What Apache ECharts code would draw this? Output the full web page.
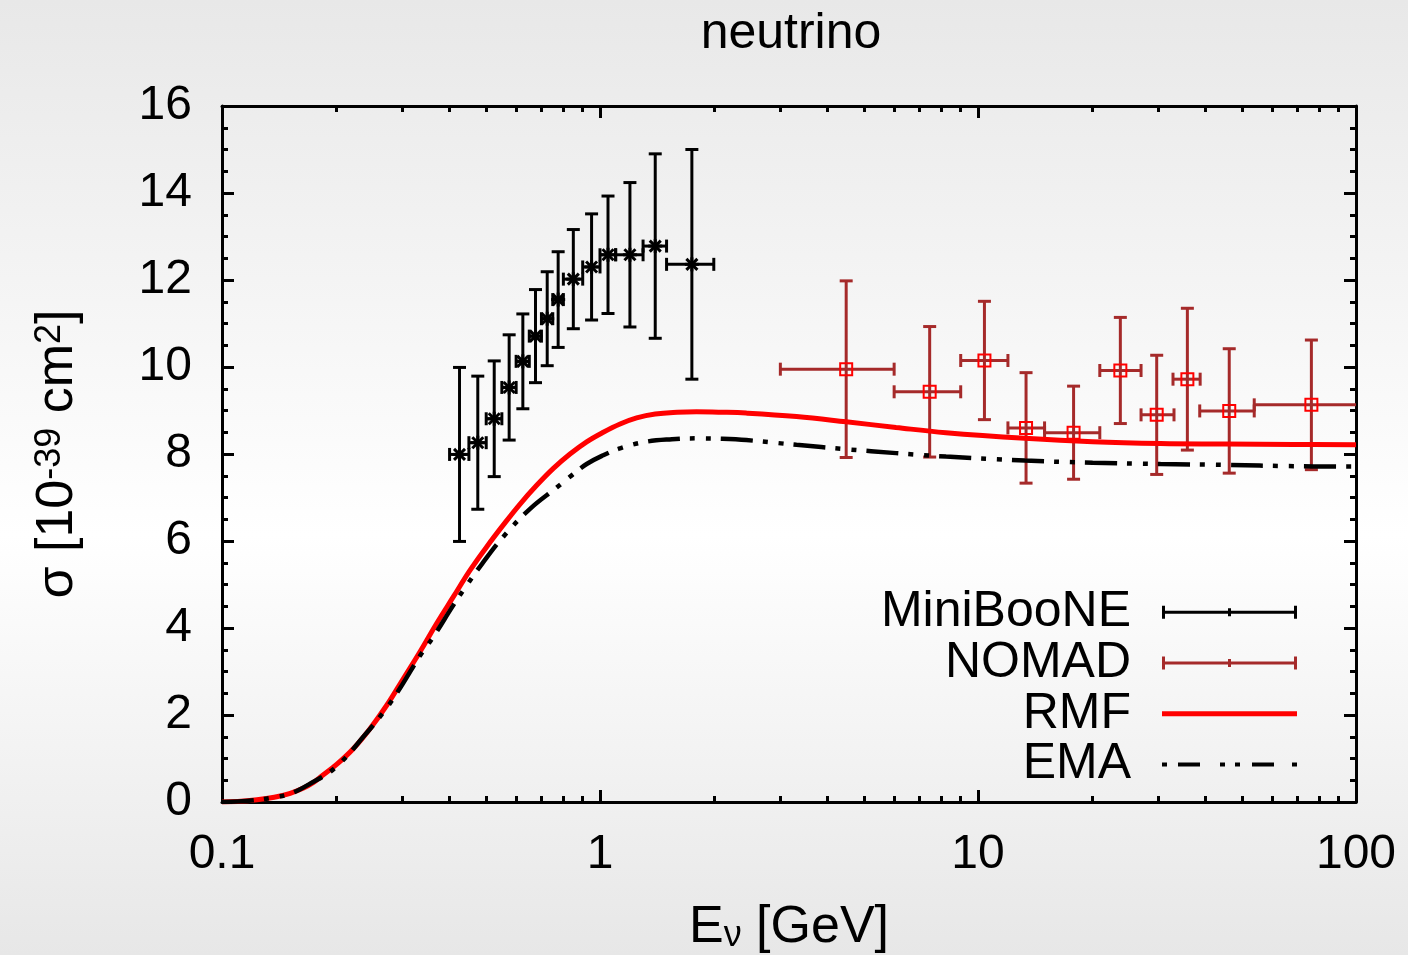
<!DOCTYPE html>
<html>
<head>
<meta charset="utf-8">
<script src="https://cdn.jsdelivr.net/npm/echarts@6/dist/echarts.min.js"></script>
<style>
  html, body { margin: 0; padding: 0; width: 1408px; height: 955px; overflow: hidden; }
  #chart { width: 1408px; height: 955px; }
</style>
</head>
<body>
<div id="chart"></div>
<script>
// ---- MiniBooNE CCQE data: bin centre, bin edges, cross section, error ----
const miniEnergy = [0.425, 0.475, 0.525, 0.575, 0.625, 0.675, 0.725, 0.775, 0.85, 0.95, 1.05, 1.2, 1.4, 1.75];
const miniLow    = [0.40, 0.45, 0.50, 0.55, 0.60, 0.65, 0.70, 0.75, 0.80, 0.90, 1.00, 1.10, 1.30, 1.50];
const miniHigh   = [0.45, 0.50, 0.55, 0.60, 0.65, 0.70, 0.75, 0.80, 0.90, 1.00, 1.10, 1.30, 1.50, 2.00];
const miniSigma  = [7.99, 8.26, 8.81, 9.53, 10.13, 10.71, 11.11, 11.55, 12.02, 12.30, 12.58, 12.58, 12.78, 12.36];
const miniErr    = [2.00, 1.53, 1.33, 1.21, 1.09, 1.07, 1.08, 1.10, 1.14, 1.22, 1.35, 1.66, 2.12, 2.64];

// ---- NOMAD data ----
const nomadEnergy = [4.48, 7.45, 10.4, 13.4, 17.9, 23.8, 29.7, 35.8, 46.2, 76.2];
const nomadLow    = [3.0, 6.0, 9.0, 12.0, 15.0, 21.0, 27.0, 32.8, 38.6, 53.8];
const nomadHigh   = [6.0, 9.0, 12.0, 15.0, 21.0, 27.0, 33.0, 38.7, 53.8, 108];
const nomadSigma  = [9.95, 9.43, 10.15, 8.60, 8.49, 9.92, 8.90, 9.72, 8.99, 9.13];
const nomadErr    = [2.03, 1.50, 1.36, 1.27, 1.07, 1.22, 1.37, 1.63, 1.43, 1.49];

// ---- RMF model curve ----
const rmfEnergy = [0.1, 0.11, 0.1237, 0.1375, 0.1515, 0.1643, 0.1746, 0.1819, 0.2014, 0.2228, 0.2466,
  0.2731, 0.302, 0.3344, 0.370, 0.4095, 0.4533, 0.5018, 0.555, 0.6145, 0.680, 0.7527, 0.833, 0.922,
  1.02, 1.13, 1.25, 1.4, 1.6, 1.8, 2.1, 2.44, 3.31, 4.48, 6.07, 8.23, 13.3, 20.1, 30.4, 45.2, 68.4, 100];
const rmfSigma = [0, 0.01, 0.05, 0.11, 0.20, 0.32, 0.45, 0.57, 0.87, 1.23, 1.69,
  2.23, 2.84, 3.46, 4.11, 4.72, 5.33, 5.87, 6.37, 6.85, 7.28, 7.67, 8.00, 8.28,
  8.50, 8.69, 8.83, 8.92, 8.96, 8.97, 8.96, 8.94, 8.86, 8.74, 8.61, 8.49, 8.36, 8.28, 8.24, 8.23, 8.22, 8.21];

// ---- EMA model curve ----
const emaEnergy = [0.1, 0.11, 0.1237, 0.1375, 0.1515, 0.1694, 0.1993, 0.2393, 0.273, 0.296, 0.334, 0.3626,
  0.409, 0.444, 0.487, 0.555, 0.653, 0.768, 0.845, 0.922, 1.02, 1.13, 1.32, 1.55, 1.80, 2.1, 2.44, 3.31,
  4.48, 6.07, 8.23, 13.3, 20.1, 30.4, 45.2, 68.4, 100];
const emaSigma = [0, 0.01, 0.05, 0.11, 0.19, 0.40, 0.79, 1.55, 2.17, 2.62, 3.36, 3.80,
  4.52, 4.98, 5.47, 6.10, 6.74, 7.23, 7.52, 7.77, 7.97, 8.13, 8.28, 8.34, 8.36, 8.35, 8.32, 8.21,
  8.11, 8.02, 7.94, 7.85, 7.80, 7.77, 7.75, 7.72, 7.71];

// ---- axis ticks ----
const xMajorTicks = [0.1, 1, 10, 100];
const xMinorTicks = [0.2, 0.3, 0.4, 0.5, 0.6, 0.7, 0.8, 0.9, 2, 3, 4, 5, 6, 7, 8, 9, 20, 30, 40, 50, 60, 70, 80, 90];

const FONT = '"Liberation Sans", Arial, Helvetica, sans-serif';

function zip(...cols) { return cols[0].map((_, i) => cols.map(c => c[i])); }

const miniRows  = zip(miniEnergy, miniLow, miniHigh, miniSigma, miniErr);
const nomadRows = zip(nomadEnergy, nomadLow, nomadHigh, nomadSigma, nomadErr);

// Error-bar glyph: vertical and horizontal bars with end caps plus a point marker.
function errorBarRenderer(barColor, markerKind, markerColor) {
  return function (params, api) {
    const x = api.value(0), xl = api.value(1), xh = api.value(2), y = api.value(3), e = api.value(4);
    const c = api.coord([x, y]);
    const top = api.coord([x, y + e]);
    const bot = api.coord([x, y - e]);
    const left = api.coord([xl, y]);
    const right = api.coord([xh, y]);
    const cap = 6.5;
    const ls = { stroke: barColor, lineWidth: 3 };
    const line = (x1, y1, x2, y2, style) => ({ type: 'line', shape: { x1, y1, x2, y2 }, style: style || ls });
    const children = [
      line(c[0], top[1], c[0], bot[1]),
      line(c[0] - cap, top[1], c[0] + cap, top[1]),
      line(c[0] - cap, bot[1], c[0] + cap, bot[1]),
      line(left[0], c[1], right[0], c[1]),
      line(left[0], c[1] - cap, left[0], c[1] + cap),
      line(right[0], c[1] - cap, right[0], c[1] + cap)
    ];
    if (markerKind === 'star') {
      const s = 7, d = 5.5;
      const ms = { stroke: markerColor, lineWidth: 3 };
      children.push(line(c[0] - s, c[1], c[0] + s, c[1], ms));
      children.push(line(c[0], c[1] - s, c[0], c[1] + s, ms));
      children.push(line(c[0] - d, c[1] - d, c[0] + d, c[1] + d, ms));
      children.push(line(c[0] - d, c[1] + d, c[0] + d, c[1] - d, ms));
    } else {
      children.push({
        type: 'rect',
        shape: { x: c[0] - 6, y: c[1] - 6, width: 12, height: 12 },
        style: { fill: 'none', stroke: markerColor, lineWidth: 2 }
      });
    }
    return { type: 'group', children };
  };
}

// Legend icons (drawn in a 135 x 14 box; tiny corner specks fix the box size)
const specks = 'M0,0 h0.01 v0.01 h-0.01 Z M134.99,13.99 h0.01 v0.01 h-0.01 Z ';
const iconErr = 'path://' + specks +
  'M0,5.5 h135 v3 h-135 Z M0,0.5 h3 v13 h-3 Z M132,0.5 h3 v13 h-3 Z M66,3 h3 v8 h-3 Z';
const iconLine = 'path://' + specks + 'M0,4.5 h135 v5 h-135 Z';
const iconDash = 'path://' + specks +
  'M0,5 h5 v4 h-5 Z M16,5 h22 v4 h-22 Z M58,5 h5 v4 h-5 Z M73,5 h5 v4 h-5 Z M90,5 h22 v4 h-22 Z M130,5 h5 v4 h-5 Z';

const xBase = { type: 'log', logBase: 10, min: 0.1, max: 100, splitLine: { show: false } };
const yBase = { type: 'value', min: 0, max: 16, interval: 2, splitLine: { show: false } };

const chart = echarts.init(document.getElementById('chart'), null, { renderer: 'canvas' });

chart.setOption({
  backgroundColor: {
    type: 'linear', x: 0, y: 0, x2: 0, y2: 1,
    colorStops: [
      { offset: 0, color: '#e8e8e8' },
      { offset: 0.56, color: '#ffffff' },
      { offset: 1, color: '#e7e7e7' }
    ]
  },
  animation: false,
  textStyle: { fontFamily: FONT },
  title: {
    text: 'neutrino',
    left: 786, top: 4, textAlign: 'center',
    textStyle: { fontFamily: FONT, fontSize: 50, fontWeight: 'normal', color: '#000' }
  },
  grid: { left: 222, right: 52, top: 106, bottom: 153, containLabel: false, outerBoundsMode: 'none' },
  xAxis: [
    Object.assign({}, xBase, {
      position: 'bottom',
      axisLine: { show: true, lineStyle: { color: '#000', width: 3 } },
      axisTick: { show: true, inside: true, length: 12, lineStyle: { color: '#000', width: 3 } },
      axisLabel: { show: true, color: '#000', fontFamily: FONT, fontSize: 48, margin: 29,
        customValues: xMajorTicks, formatter: v => String(v) },
      name: '{m|E}{s|ν}{m| [GeV]}',
      nameLocation: 'middle', nameGap: 100,
      nameTextStyle: {
        rich: {
          m: { fontFamily: FONT, fontSize: 52, color: '#000', lineHeight: 52, padding: [0, 0, 12, 0], verticalAlign: 'top' },
          s: { fontFamily: FONT, fontSize: 36, color: '#000', lineHeight: 36, verticalAlign: 'bottom' }
        }
      }
    }),
    Object.assign({}, xBase, {
      position: 'bottom',
      axisLine: { show: false },
      axisTick: { show: true, inside: true, length: 6, customValues: xMinorTicks, lineStyle: { color: '#000', width: 3 } },
      axisLabel: { show: false }
    }),
    Object.assign({}, xBase, {
      position: 'top',
      axisLine: { show: true, lineStyle: { color: '#000', width: 3 } },
      axisTick: { show: true, inside: true, length: 12, lineStyle: { color: '#000', width: 3 } },
      axisLabel: { show: false }
    }),
    Object.assign({}, xBase, {
      position: 'top',
      axisLine: { show: false },
      axisTick: { show: true, inside: true, length: 6, customValues: xMinorTicks, lineStyle: { color: '#000', width: 3 } },
      axisLabel: { show: false }
    })
  ],
  yAxis: [
    Object.assign({}, yBase, {
      position: 'left',
      axisLine: { show: true, lineStyle: { color: '#000', width: 3 } },
      axisTick: { show: true, inside: true, length: 12, lineStyle: { color: '#000', width: 3 } },
      minorTick: { show: true, splitNumber: 4, length: 6, lineStyle: { color: '#000', width: 3 } },
      axisLabel: { show: true, color: '#000', fontFamily: FONT, fontSize: 48, margin: 30 },
      name: '{m|σ [10}{p|-39}{m| cm}{p|2}{m|]}',
      nameLocation: 'middle', nameGap: 138,
      nameTextStyle: {
        rich: {
          m: { fontFamily: FONT, fontSize: 52, color: '#000', lineHeight: 52, padding: [25, 0, 0, 0], verticalAlign: 'bottom' },
          p: { fontFamily: FONT, fontSize: 36, color: '#000', lineHeight: 36, verticalAlign: 'top' }
        }
      }
    }),
    Object.assign({}, yBase, {
      position: 'right',
      axisLine: { show: true, lineStyle: { color: '#000', width: 3 } },
      axisTick: { show: true, inside: true, length: 12, lineStyle: { color: '#000', width: 3 } },
      minorTick: { show: true, splitNumber: 4, length: 6, lineStyle: { color: '#000', width: 3 } },
      axisLabel: { show: false }
    })
  ],
  legend: {
    orient: 'vertical',
    right: 111, top: 587,
    padding: 0,
    align: 'right',
    itemWidth: 135, itemHeight: 14, itemGap: 0,
    selectedMode: false,
    textStyle: { fontFamily: FONT, fontSize: 50, lineHeight: 50.7, color: '#000', padding: [0, 26, 0, 0] },
    data: [
      { name: 'MiniBooNE', icon: iconErr },
      { name: 'NOMAD', icon: iconErr },
      { name: 'RMF', icon: iconLine },
      { name: 'EMA', icon: iconDash }
    ]
  },
  series: [
    {
      name: 'MiniBooNE', type: 'custom', clip: true, z: 2,
      itemStyle: { color: '#000000' },
      encode: { x: [0, 1, 2], y: [3] },
      data: miniRows,
      renderItem: errorBarRenderer('#000000', 'star', '#000000')
    },
    {
      name: 'NOMAD', type: 'custom', clip: true, z: 2,
      itemStyle: { color: '#a52a2a' },
      encode: { x: [0, 1, 2], y: [3] },
      data: nomadRows,
      renderItem: errorBarRenderer('#a52a2a', 'square', '#ff0000')
    },
    {
      name: 'RMF', type: 'line', z: 3, smooth: 0.4, showSymbol: false, symbol: 'none',
      itemStyle: { color: '#ff0000' },
      lineStyle: { color: '#ff0000', width: 5 },
      data: zip(rmfEnergy, rmfSigma)
    },
    {
      name: 'EMA', type: 'line', z: 4, smooth: 0.4, showSymbol: false, symbol: 'none',
      itemStyle: { color: '#000000' },
      lineStyle: { color: '#000000', width: 4.5, type: [32, 10, 5, 11, 5, 10], cap: 'butt' },
      data: zip(emaEnergy, emaSigma)
    }
  ]
});
</script>
</body>
</html>
